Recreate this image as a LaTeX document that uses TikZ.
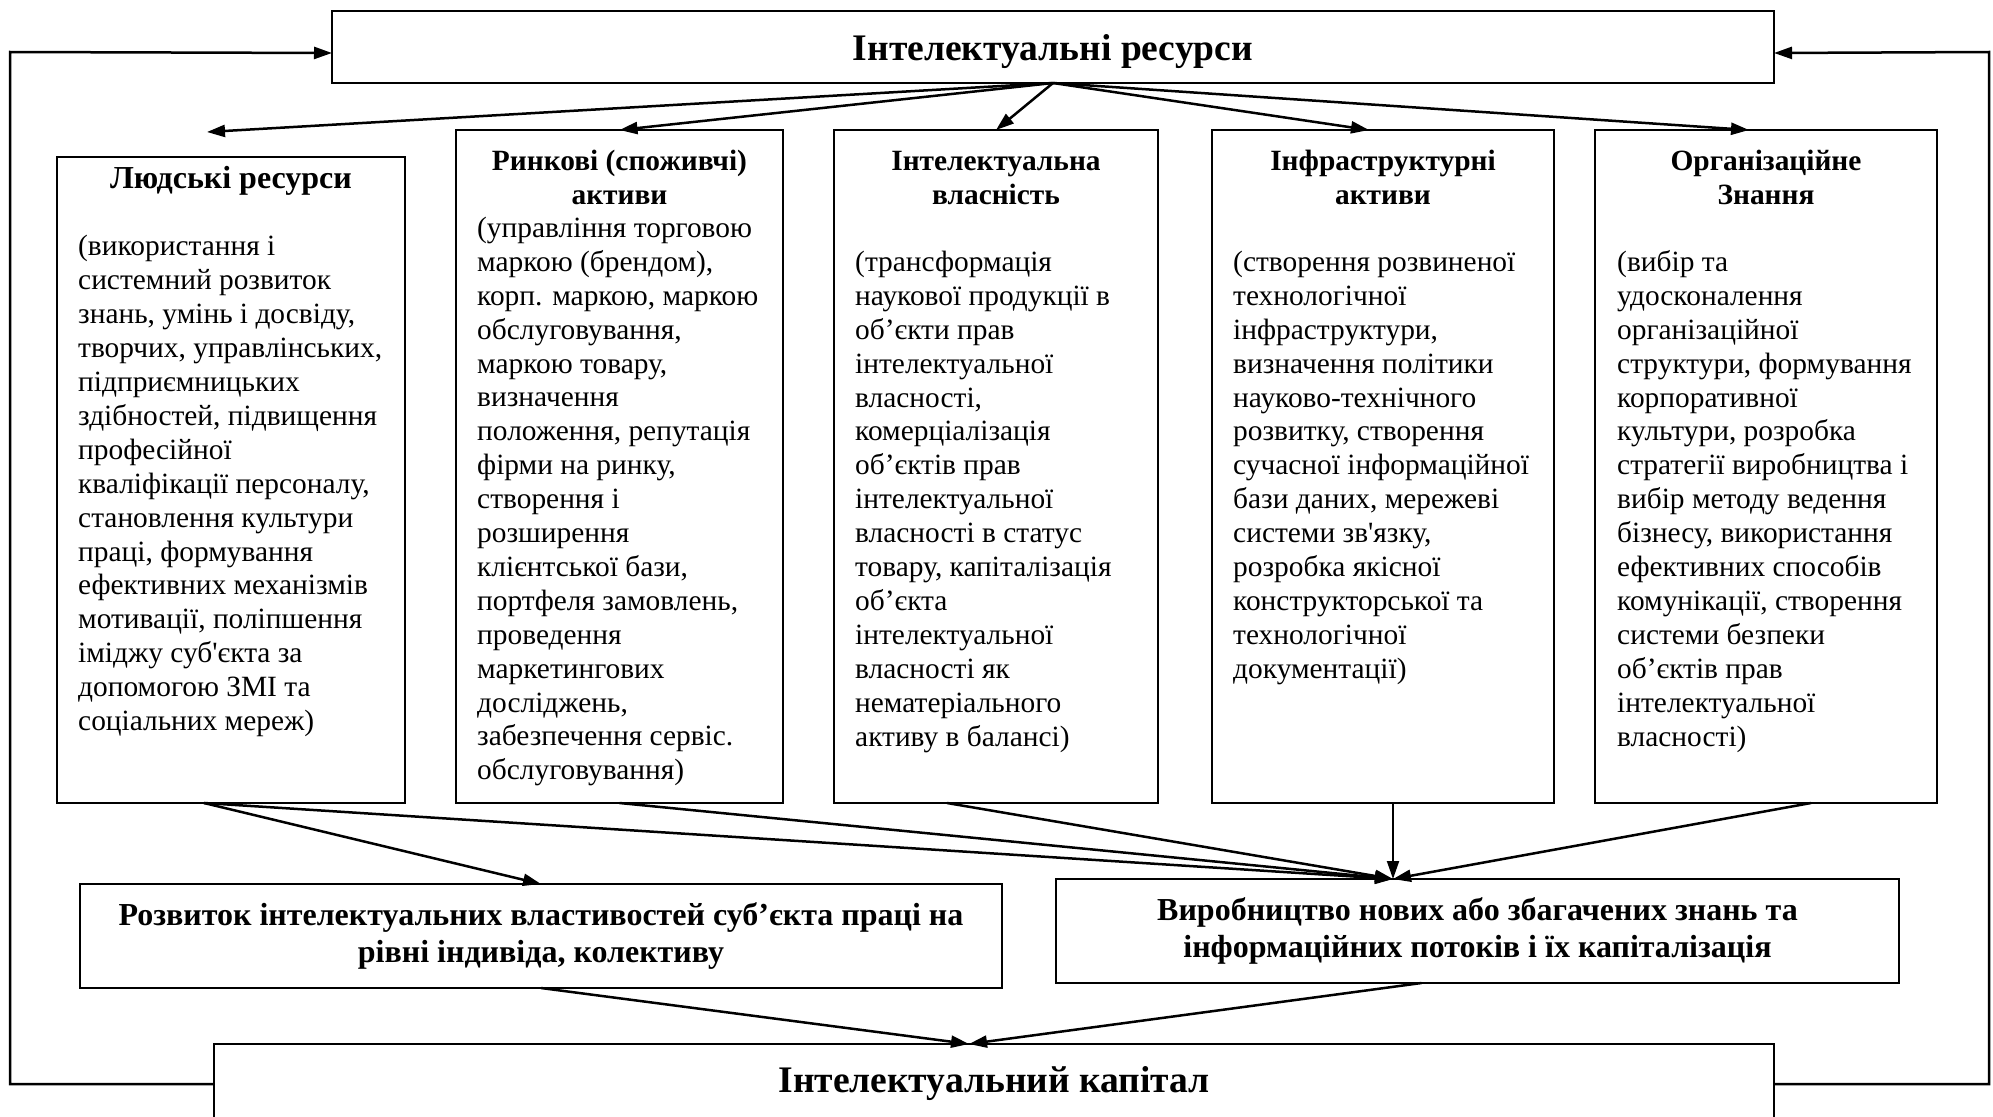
\documentclass[tikz,border=0pt]{standalone}
\usepackage{fontspec}
\setmainfont{Liberation Serif}
\newfontfamily\diagfont{Liberation Serif}
\usetikzlibrary{arrows.meta,calc}

\tikzset{
  box/.style={draw, line width=2pt, inner sep=0pt, outer sep=0pt, rectangle},
  conn/.style={line width=2.5pt, -{Triangle[length=18pt,width=12pt]}},
  headtxt/.style={font=\diagfont\fontsize{29.4}{33.9}\selectfont\bfseries, align=center, anchor=north, inner sep=0pt},
  bodytxt/.style={font=\diagfont\fontsize{29.4}{33.9}\selectfont, align=left, anchor=north west, inner sep=0pt},
  midtxt/.style={font=\diagfont\fontsize{32}{37}\selectfont\bfseries, align=center},
  bigtxt/.style={font=\diagfont\fontsize{37.5}{42}\selectfont\bfseries, align=center},
}

\begin{document}
\begin{tikzpicture}[x=1pt,y=-1pt]
\useasboundingbox (0,0) rectangle (1993,1116);
\fill[white] (0,0) rectangle (1993,1116);

% top and bottom boxes
\node[box, bigtxt, text depth=0pt, minimum width=1442pt, minimum height=72pt] (top) at (1053,47) {Інтелектуальні ресурси};
\node[box, midtxt, minimum width=922pt, minimum height=104pt] (r) at (541,936)
  {Розвиток інтелектуальних властивостей суб’єкта праці на\\рівні індивіда, колективу};
\node[box, midtxt, minimum width=843pt, minimum height=104pt] (v) at (1477.5,931)
  {Виробництво нових або збагачених знань та\\інформаційних потоків і їх капіталізація};
\node[box, bigtxt, minimum width=1560pt, minimum height=80pt] (k) at (994,1084) {Інтелектуальний капітал};

% the five resource boxes
\node[box, minimum width=348pt, minimum height=646pt] (b1) at (231,480) {};
\node[box, minimum width=327pt, minimum height=673pt] (b2) at (619.5,466.5) {};
\node[box, minimum width=324pt, minimum height=673pt] (b3) at (996,466.5) {};
\node[box, minimum width=342pt, minimum height=673pt] (b4) at (1383,466.5) {};
\node[box, minimum width=342pt, minimum height=673pt] (b5) at (1766,466.5) {};

% headings
\node[headtxt, font=\diagfont\fontsize{32}{37}\selectfont\bfseries] (h1) at (231,162) {\strut Людські ресурси};
\node[headtxt] (h2) at (619.5,147) {\strut Ринкові (споживчі)\\активи};
\node[headtxt] (h3) at (996,147) {\strut Інтелектуальна\\власність};
\node[headtxt] (h4) at (1383,147) {\strut Інфраструктурні\\активи};
\node[headtxt] (h5) at (1766,147) {\strut Організаційне\\Знання};

% descriptions
\node[bodytxt] (t1) at (78,232) {\strut(використання і\\системний розвиток\\знань, умінь і досвіду,\\творчих, управлінських,\\підприємницьких\\здібностей, підвищення\\професійної\\кваліфікації персоналу,\\становлення культури\\праці, формування\\ефективних механізмів\\мотивації, поліпшення\\іміджу суб'єкта за\\допомогою ЗМІ та\\соціальних мереж)};
\node[bodytxt] (t2) at (477,213.5) {\strut(управління торговою\\маркою (брендом),\\корп. маркою, маркою\\обслуговування,\\маркою товару,\\визначення\\положення, репутація\\фірми на ринку,\\створення і\\розширення\\клієнтської бази,\\портфеля замовлень,\\проведення\\маркетингових\\досліджень,\\забезпечення сервіс.\\обслуговування)};
\node[bodytxt] (t3) at (855,247.5) {\strut(трансформація\\наукової продукції в\\об’єкти прав\\інтелектуальної\\власності,\\комерціалізація\\об’єктів прав\\інтелектуальної\\власності в статус\\товару, капіталізація\\об’єкта\\інтелектуальної\\власності як\\нематеріального\\активу в балансі)};
\node[bodytxt] (t4) at (1233,247.5) {\strut(створення розвиненої\\технологічної\\інфраструктури,\\визначення політики\\науково-технічного\\розвитку, створення\\сучасної інформаційної\\бази даних, мережеві\\системи зв'язку,\\розробка якісної\\конструкторської та\\технологічної\\документації)};
\node[bodytxt] (t5) at (1617,247.5) {\strut(вибір та\\удосконалення\\організаційної\\структури, формування\\корпоративної\\культури, розробка\\стратегії виробництва і\\вибір методу ведення\\бізнесу, використання\\ефективних способів\\комунікації, створення\\системи безпеки\\об’єктів прав\\інтелектуальної\\власності)};

% connector end points
\coordinate (b1in) at (207,132);
\coordinate (vin) at (1393,879);
\coordinate (kin) at (969,1044);
\coordinate (lc) at (10,52);
\coordinate (rc) at (1989,52);

% from the resources to the five groups
\draw[conn] (top.south) -- (b1in);
\draw[conn] (top.south) -- (b2.north);
\draw[conn] (top.south) -- (b3.north);
\draw[conn] (top.south) -- ([xshift=-14pt]b4.north);
\draw[conn] (top.south) -- ([xshift=-17pt]b5.north);

% from the groups to the two results
\draw[conn] ([xshift=-27pt]b1.south) -- (r.north);
\draw[conn] ([xshift=-27pt]b1.south) -- (vin);
\draw[conn] (b2.south) -- (vin);
\draw[conn] ([xshift=-49pt]b3.south) -- (vin);
\draw[conn, line width=2pt] (b4.south -| vin) -- (vin);
\draw[conn] ([xshift=45pt]b5.south) -- (vin);

% results into capital
\draw[conn] (r.south) -- (kin);
\draw[conn] ([xshift=-56pt]v.south) -- (kin);

% feedback loops
\draw[conn] (k.west) -| (lc) -- ([yshift=-6pt]top.west);
\draw[conn] (k.east) -| (rc) -- ([yshift=-6pt]top.east);
\end{tikzpicture}
\end{document}
